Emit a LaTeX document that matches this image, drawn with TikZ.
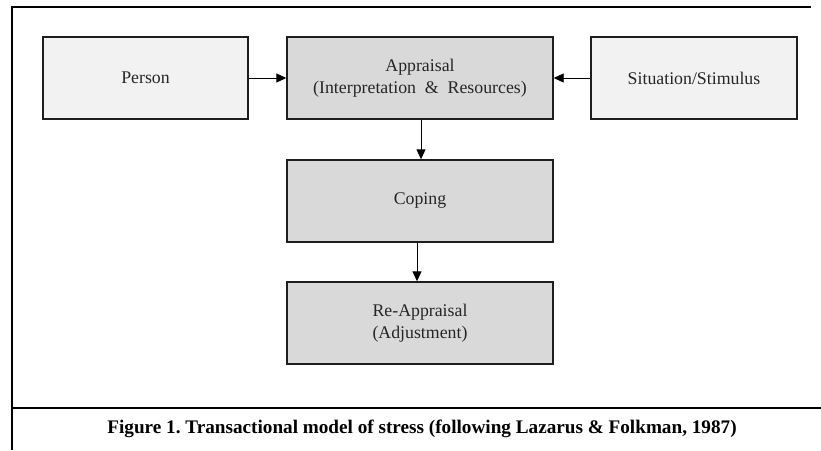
\documentclass[tikz,border=0pt]{standalone}
\usepackage{fontspec}
\setmainfont{Liberation Serif}
\usetikzlibrary{arrows.meta}
\definecolor{lightbox}{HTML}{F2F2F2}
\definecolor{darkbox}{HTML}{D9D9D9}
\definecolor{edgec}{HTML}{1E1E1E}
\begin{document}
\frenchspacing
\begin{tikzpicture}[x=1pt,y=-1pt,
  boxbase/.style={draw=edgec,line width=1.4pt,inner sep=0pt,minimum height=82pt,align=center,
    font=\fontsize{17.8}{21.5}\selectfont,text=black!85},
  lightnode/.style={boxbase,fill=lightbox},
  darknode/.style={boxbase,fill=darkbox},
  conn/.style={line width=0.9pt,-{Triangle[length=10pt,width=9pt]}},
  frameline/.style={line width=1.4pt}]
\useasboundingbox (0,0) rectangle (821,450);
% frame
\draw[frameline] (811,7) -- (12,7) -- (12,450);
\draw[frameline] (12,408) -- (821,408);
% boxes
\node[lightnode,minimum width=205pt] (person) at (145.5,78) {Person};
\node[darknode,minimum width=266pt] (appr) at (420,78) {Appraisal\\(Interpretation \ \& \ Resources)};
\node[lightnode,minimum width=206pt] (sit) at (694,78) {Situation/Stimulus};
\node[darknode,minimum width=266pt] (coping) at (420,201) {Coping};
\node[darknode,minimum width=266pt] (reapp) at (420,323) {Re-Appraisal\\(Adjustment)};
% connectors
\draw[conn] (person.east) -- (appr.west);
\draw[conn] (sit.west) -- (appr.east);
\draw[conn] ([xshift=1pt]appr.south) -- ([xshift=1pt]coping.north);
\draw[conn] ([xshift=-3pt]coping.south) -- ([xshift=-3pt]reapp.north);
% caption
\node[anchor=base,inner sep=0pt,font=\fontsize{19.2}{22}\selectfont\bfseries] (cap) at (422,433)
  {Figure 1. Transactional model of stress (following Lazarus \& Folkman, 1987)};
\end{tikzpicture}
\end{document}
